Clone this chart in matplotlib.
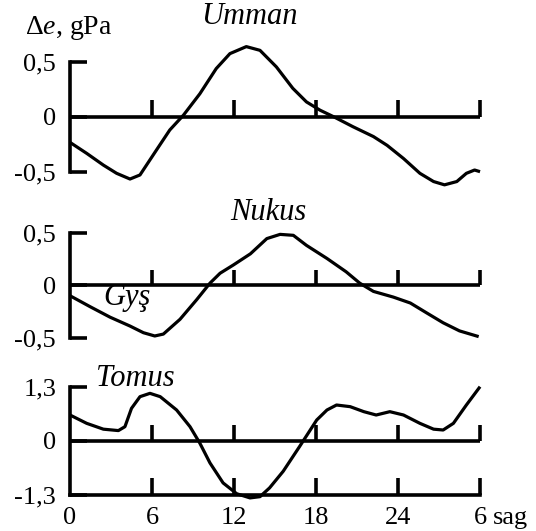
import matplotlib
matplotlib.use("Agg")
import matplotlib.pyplot as plt

plt.rcParams.update({
    "font.family": "Liberation Serif", "font.size": 19,
    "mathtext.fontset": "custom", "mathtext.it": "Liberation Serif:italic",
    "mathtext.rm": "Liberation Serif",
})

# ---- data (hours, gPa) ----
umman_t = [0, 1.22, 2.44, 3.41, 4.39, 5.12, 6.34, 7.3, 8.3, 9.5, 10.7, 11.7, 12.9, 13.9,
           15.1, 16.3, 17.3, 18.3, 19.3, 20.7, 22.2, 23.2, 24.4, 25.6, 26.6, 27.4, 28.3,
           29.0, 29.6, 30.0]
umman_v = [-0.233, -0.333, -0.44, -0.515, -0.567, -0.53, -0.30, -0.12, 0.015, 0.21, 0.44,
           0.576, 0.64, 0.606, 0.455, 0.26, 0.136, 0.06, 0.0, -0.09, -0.18, -0.26, -0.38,
           -0.515, -0.59, -0.62, -0.59, -0.515, -0.485, -0.50]

nukus_t = [0, 1.46, 2.93, 4.39, 5.37, 6.2, 6.83, 8.05, 9.27, 10.24, 10.98, 11.95, 13.2,
           14.4, 15.37, 16.34, 17.3, 18.8, 20.2, 21.2, 22.2, 23.66, 24.9, 26.1, 27.3,
           28.5, 29.9]
nukus_v = [-0.097, -0.20, -0.30, -0.384, -0.447, -0.478, -0.46, -0.32, -0.134, 0.022,
           0.116, 0.194, 0.30, 0.444, 0.484, 0.475, 0.38, 0.256, 0.13, 0.022, -0.056,
           -0.11, -0.166, -0.26, -0.353, -0.43, -0.484]

tomus_t = [0, 1.22, 2.44, 3.54, 4.02, 4.5, 5.12, 5.85, 6.6, 7.8, 8.78, 9.5, 10.24, 11.2,
           12.2, 13.17, 13.9, 14.6, 15.6, 16.8, 18.05, 18.8, 19.5, 20.5, 21.5, 22.4, 23.4,
           24.4, 25.6, 26.6, 27.3, 28.05, 29.0, 30.0]
tomus_v = [0.62, 0.42, 0.28, 0.246, 0.34, 0.78, 1.06, 1.14, 1.06, 0.74, 0.34, -0.056,
           -0.53, -1.01, -1.27, -1.37, -1.34, -1.13, -0.73, -0.135, 0.50, 0.74, 0.86, 0.82,
           0.70, 0.62, 0.70, 0.62, 0.42, 0.28, 0.26, 0.42, 0.86, 1.30]

xticks = [6, 12, 18, 24, 30]
xlabels = ["0", "6", "12", "18", "24", "6"]
panels = [
    ("Umman", umman_t, umman_v, 0.5, ["-0,5", "0", "0,5"]),
    ("Nukus", nukus_t, nukus_v, 0.5, ["-0,5", "0", "0,5"]),
    ("Tomus", tomus_t, tomus_v, 1.3, ["-1,3", "0", "1,3"]),
]
# axes boxes in figure fraction
boxes = [(0.1306, 0.6767, 0.765, 0.2066),
         (0.1306, 0.3629, 0.765, 0.1989),
         (0.1306, 0.0678, 0.765, 0.2040)]

LW_AX, LW = 2.6, 2.3
fig = plt.figure(figsize=(5.36, 5.31), dpi=100)
axes = []
for (name, t, v, lim, ylab), box in zip(panels, boxes):
    ax = fig.add_axes(box)
    ax.plot(t, v, color="black", lw=LW, clip_on=False,
            solid_joinstyle="round", solid_capstyle="butt")
    ax.set_xlim(0, 30); ax.set_ylim(-lim, lim)
    for s in ("top", "right", "bottom"):
        ax.spines[s].set_visible(False)
    ax.spines["left"].set_linewidth(LW_AX)
    ax.set_yticks([-lim, 0, lim]); ax.set_yticklabels(ylab)
    ax.tick_params(axis="y", direction="in", length=12, width=LW_AX, pad=10)
    # zero line with upward ticks
    ax.hlines(0, 0, 30, color="black", lw=LW_AX, clip_on=False)
    ax.vlines(xticks, 0, lim * 0.3, color="black", lw=LW_AX, clip_on=False)
    ax.set_xticks([])
    axes.append(ax)

# bottom panel: time axis at -1.3
ax3 = axes[2]
ax3.spines["bottom"].set_visible(True)
ax3.spines["bottom"].set_linewidth(LW_AX)
ax3.set_xticks([0] + xticks); ax3.set_xticklabels(xlabels)
ax3.tick_params(axis="x", direction="in", length=12, width=LW_AX, pad=9)
ax3.xaxis.get_major_ticks()[0].tick1line.set_visible(False)
ax3.annotate("sag", (30, -1.3), xytext=(9, -8.5), textcoords="offset points",
             ha="left", va="top", fontsize=19, annotation_clip=False)

# titles and labels
fig.text(249 / 536, 1 - 17 / 531, "Umman", style="italic", ha="center", va="center", fontsize=22)
fig.text(268 / 536, 1 - 213 / 531, "Nukus", style="italic", ha="center", va="center", fontsize=22)
fig.text(135 / 536, 1 - 378 / 531, "Tomus", style="italic", ha="center", va="center", fontsize=22)
fig.text(127 / 536, 1 - 298 / 531, "Gyş", style="italic", ha="center", va="center", fontsize=22)
fig.text(25 / 536, 1 - 28 / 531, "Δ$e$, gPa", ha="left", va="center", fontsize=20)

fig.savefig("out.png", dpi=100)
